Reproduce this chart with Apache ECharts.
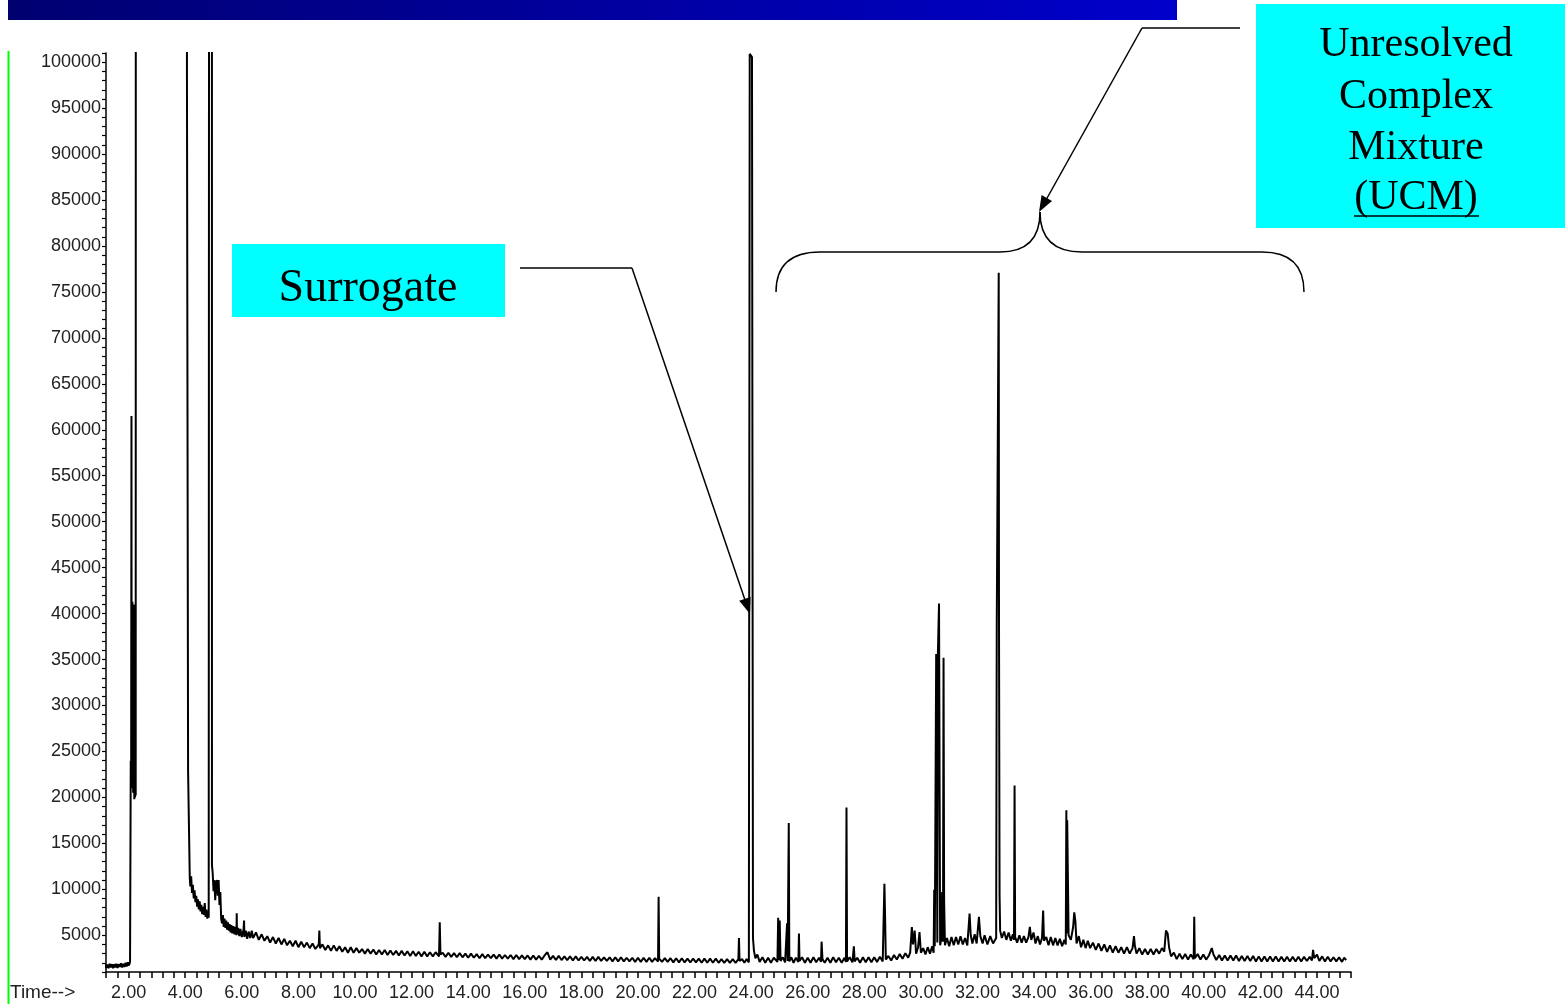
<!DOCTYPE html>
<html>
<head>
    <meta charset="utf-8">
    <title>Chromatogram</title>
    <script src="https://cdn.jsdelivr.net/npm/echarts@6/dist/echarts.min.js"></script>
    <style>
        html, body { margin: 0; padding: 0; background: #fff; }
    </style>
</head>
<body>
    <div id="main" style="width: 1565px;height:1004px;"></div>

    <script type="text/javascript">
        // retention time (min) / abundance pairs
        var preSolvent = [
            [1.13, 1400], [1.17, 1850], [1.21, 1450], [1.25, 1800], [1.29, 1400], [1.33, 1900],
            [1.37, 1500], [1.41, 1850], [1.45, 1400], [1.49, 1850], [1.53, 1500], [1.57, 1900],
            [1.61, 1450], [1.65, 1850], [1.69, 1550], [1.73, 1950], [1.77, 1500], [1.81, 1900],
            [1.85, 1550], [1.89, 2000], [1.93, 1600], [1.97, 2050], [2.01, 1700], [2.05, 2100],
            [2.07, 1900], [2.075, 24000], [2.09, 23500], [2.10, 61500], [2.106, 22500],
            [2.115, 40000], [2.124, 21000], [2.133, 41300], [2.142, 23000], [2.151, 38500],
            [2.16, 20500], [2.169, 39500], [2.178, 21500], [2.19, 41000], [2.20, 19800],
            [2.21, 33000], [2.225, 20000], [2.24, 27000], [2.25, 20200], [2.26, 300000]
        ];
        var solventTail = [
            [4.06, 300000], [4.061, 98500], [4.10, 98500], [4.101, 22900], [4.155, 22900],
            [4.16, 11300], [4.18, 10300], [4.21, 11400], [4.24, 9600], [4.27, 10500], [4.30, 9000],
            [4.33, 9900], [4.36, 8600], [4.39, 9300], [4.42, 8100], [4.45, 8900], [4.48, 7800],
            [4.51, 8700], [4.54, 7600], [4.57, 8300], [4.60, 7300], [4.63, 8100], [4.66, 7200],
            [4.69, 8500], [4.72, 7000], [4.75, 7800], [4.78, 6800], [4.81, 7600], [4.83, 6900],
            [4.85, 7000], [4.86, 300000], [4.94, 300000], [4.945, 12600], [4.97, 11800],
            [5.00, 9800], [5.03, 11000], [5.06, 8800], [5.09, 10700], [5.12, 11000], [5.15, 9300],
            [5.18, 11000], [5.21, 8300], [5.24, 9700], [5.27, 6800], [5.30, 6300], [5.33, 7200],
            [5.36, 5900], [5.39, 6800], [5.42, 5800], [5.45, 6600], [5.48, 5600], [5.51, 6400],
            [5.54, 5500], [5.57, 6200], [5.60, 5300], [5.63, 6100], [5.66, 5200], [5.70, 6000],
            [5.74, 5100], [5.78, 5900], [5.81, 5000], [5.82, 7400], [5.83, 5100], [5.87, 5800],
            [5.91, 4900], [5.95, 5700], [6.00, 4800], [6.06, 5600], [6.08, 6600], [6.09, 4800],
            [6.14, 5500], [6.19, 4600], [6.24, 5400], [6.30, 4700]
        ];
        var earlyBaseline = [
            [6.35, 5500], [6.40, 4700], [6.50, 5300], [6.60, 4500], [6.70, 5100], [6.80, 4400],
            [6.90, 4900], [7.00, 4200], [7.10, 4800], [7.20, 4100], [7.30, 4700], [7.40, 4000],
            [7.50, 4600], [7.60, 3900], [7.70, 4400], [7.80, 3800], [7.90, 4400], [8.00, 3700],
            [8.10, 4300], [8.20, 3700], [8.30, 4200], [8.40, 3600], [8.50, 4100], [8.60, 3500],
            [8.72, 4000], [8.74, 5500], [8.76, 3600], [8.85, 4000], [8.95, 3400], [9.05, 3900],
            [9.15, 3300], [9.25, 3900], [9.35, 3300], [9.45, 3800], [9.55, 3200], [9.65, 3700],
            [9.75, 3100], [9.85, 3700], [9.95, 3100], [10.05, 3600], [10.15, 3100], [10.25, 3500],
            [10.35, 3000], [10.45, 3500], [10.55, 3000], [10.65, 3450], [10.75, 2900], [10.85, 3400],
            [10.95, 2900], [11.05, 3400], [11.15, 2850], [11.25, 3350], [11.35, 2850], [11.45, 3300],
            [11.55, 2800], [11.65, 3300], [11.75, 2800], [11.85, 3250], [11.95, 2750], [12.05, 3250],
            [12.15, 2750], [12.25, 3200], [12.35, 2700], [12.45, 3200], [12.55, 2700], [12.65, 3150],
            [12.75, 2700], [12.85, 3150], [12.97, 2700], [12.995, 6400], [13.02, 2900], [13.10, 3100],
            [13.20, 2650], [13.30, 3100], [13.40, 2650], [13.50, 3050], [13.60, 2600], [13.70, 3050],
            [13.80, 2600], [13.90, 3000], [14.00, 2550], [14.10, 3000], [14.20, 2550], [14.30, 2950],
            [14.40, 2500], [14.50, 2950], [14.60, 2500], [14.70, 2900], [14.80, 2500], [14.90, 2900],
            [15.00, 2450], [15.10, 2900], [15.20, 2450], [15.30, 2850], [15.40, 2450], [15.50, 2850],
            [15.60, 2400], [15.70, 2850], [15.80, 2400], [15.90, 2800], [16.00, 2400], [16.10, 2800],
            [16.20, 2350], [16.30, 2800], [16.40, 2350], [16.50, 2750], [16.60, 2350], [16.70, 2800],
            [16.80, 3150], [16.90, 2350], [17.00, 2750], [17.10, 2300], [17.20, 2750], [17.30, 2300],
            [17.40, 2700], [17.50, 2300], [17.60, 2700], [17.70, 2250], [17.80, 2700], [17.90, 2250],
            [18.00, 2650], [18.10, 2250], [18.20, 2650], [18.30, 2200], [18.40, 2650], [18.50, 2200],
            [18.60, 2650], [18.70, 2200], [18.80, 2600], [18.90, 2200], [19.00, 2600], [19.10, 2150],
            [19.20, 2600], [19.30, 2150], [19.40, 2600], [19.50, 2150], [19.60, 2550], [19.70, 2150],
            [19.80, 2550], [19.90, 2100], [20.00, 2550], [20.10, 2100], [20.20, 2550], [20.30, 2100],
            [20.40, 2550], [20.50, 2100], [20.60, 2500], [20.71, 2150], [20.73, 9200], [20.75, 2450],
            [20.85, 2100], [20.95, 2500], [21.05, 2100], [21.15, 2500], [21.25, 2050], [21.35, 2500],
            [21.45, 2050], [21.55, 2500], [21.65, 2050], [21.75, 2450], [21.85, 2050], [21.95, 2450],
            [22.05, 2050], [22.15, 2450], [22.25, 2000], [22.35, 2450], [22.45, 2000], [22.55, 2450],
            [22.65, 2000], [22.75, 2450], [22.85, 2000], [22.95, 2400], [23.05, 2000], [23.15, 2400],
            [23.25, 2000], [23.35, 2400], [23.45, 2000], [23.55, 2400], [23.57, 4700], [23.59, 2200],
            [23.68, 2400], [23.76, 2000], [23.84, 2400], [23.92, 2050]
        ];
        var surrogatePeak = [
            [23.95, 100900], [24.02, 100900], [24.03, 100550], [24.06, 100550], [24.065, 4700],
            [24.10, 3300], [24.15, 2500], [24.22, 2900]
        ];
        var midBaseline = [
            [24.30, 2100], [24.40, 2600], [24.50, 2000], [24.60, 2550], [24.70, 2000], [24.80, 2550],
            [24.93, 2100], [24.955, 6900], [24.98, 2300], [25.01, 6600], [25.04, 2200], [25.12, 2600],
            [25.20, 2050], [25.27, 6300], [25.29, 2200], [25.33, 17200], [25.35, 2150], [25.42, 2600],
            [25.50, 2000], [25.58, 2550], [25.67, 2100], [25.69, 5200], [25.71, 2200], [25.80, 2600],
            [25.90, 2000], [26.00, 2550], [26.10, 2000], [26.20, 2600], [26.30, 2050], [26.40, 2550],
            [26.47, 2100], [26.49, 4300], [26.52, 2400], [26.60, 2000], [26.70, 2550], [26.80, 2000],
            [26.90, 2600], [27.00, 2050], [27.10, 2550], [27.20, 2000], [27.30, 2550], [27.35, 2100],
            [27.37, 18900], [27.39, 2150], [27.48, 2600], [27.58, 2050], [27.63, 3800], [27.66, 2150],
            [27.75, 2550], [27.85, 2000], [27.95, 2600], [28.05, 2050], [28.15, 2600], [28.25, 2050],
            [28.35, 2600], [28.45, 2100], [28.55, 2650], [28.65, 2150], [28.71, 10600], [28.73, 7700],
            [28.76, 2350], [28.85, 2750], [28.95, 2250], [29.05, 2850], [29.15, 2350], [29.25, 2950],
            [29.35, 2450], [29.45, 3050], [29.55, 2550]
        ];
        var ucmHump = [
            [29.62, 3100], [29.68, 5900], [29.72, 4000], [29.78, 5500], [29.83, 3000], [29.90, 3700],
            [29.95, 5350], [30.00, 3100], [30.08, 3600], [30.16, 2900], [30.24, 3700], [30.32, 3000],
            [30.40, 3800], [30.45, 3100], [30.47, 9950], [30.49, 3800], [30.54, 35600], [30.58, 4200],
            [30.60, 35600], [30.64, 41100], [30.68, 3900], [30.72, 4600], [30.75, 9700], [30.78, 4300],
            [30.80, 35200], [30.82, 8800], [30.85, 3900], [30.92, 4700], [31.00, 3800], [31.08, 4800],
            [31.16, 3900], [31.24, 4800], [31.32, 4000], [31.40, 4900], [31.48, 4000], [31.56, 4700],
            [31.64, 3900], [31.72, 7350], [31.76, 5000], [31.82, 4100], [31.90, 5100], [31.97, 4100],
            [32.05, 7000], [32.10, 4900], [32.18, 4100], [32.25, 5000], [32.35, 4000], [32.45, 4900],
            [32.55, 4100], [32.66, 4700], [32.68, 38500], [32.74, 38500], [32.75, 77100], [32.76, 38500],
            [32.78, 9300], [32.80, 5500], [32.86, 4700], [32.94, 5400], [33.02, 4500], [33.10, 5300],
            [33.18, 4400], [33.25, 5100], [33.29, 4500], [33.31, 21300], [33.33, 4800], [33.40, 4200],
            [33.48, 5000], [33.56, 4200], [33.64, 4900], [33.72, 4200], [33.80, 4800], [33.85, 5900],
            [33.90, 4500], [33.98, 5300], [34.05, 4100], [34.13, 4900], [34.21, 4000], [34.28, 4700],
            [34.32, 7700], [34.35, 4400], [34.43, 4800], [34.51, 3900], [34.59, 4800], [34.67, 3900],
            [34.75, 4700], [34.83, 3900], [34.91, 4600], [34.99, 3800], [35.07, 4500], [35.12, 4000],
            [35.14, 18600], [35.16, 5200], [35.17, 17500], [35.20, 17500], [35.22, 5000], [35.30, 4500],
            [35.38, 5900], [35.42, 7500], [35.46, 6500], [35.50, 4100], [35.58, 4900], [35.66, 3700],
            [35.74, 4500], [35.82, 3600], [35.90, 4400], [35.98, 3600]
        ];
        var lateTail = [
            [36.08, 4200], [36.18, 3400], [36.28, 4100], [36.38, 3300], [36.48, 4000], [36.58, 3200],
            [36.68, 3900], [36.78, 3100], [36.88, 3800], [36.98, 3100], [37.08, 3700], [37.18, 3000],
            [37.28, 3700], [37.38, 3000], [37.48, 3600], [37.53, 4900], [37.56, 3900], [37.62, 3000],
            [37.72, 3600], [37.82, 2900], [37.92, 3500], [38.02, 2900], [38.12, 3500], [38.22, 2900],
            [38.32, 3500], [38.42, 3000], [38.52, 3600], [38.60, 3200], [38.66, 5500], [38.72, 5200],
            [38.77, 3700], [38.84, 2700], [38.94, 3100], [39.04, 2400], [39.14, 3000], [39.24, 2400],
            [39.34, 2950], [39.44, 2350], [39.54, 2900], [39.64, 2400], [39.66, 7000], [39.68, 2500],
            [39.78, 2950], [39.88, 2350], [39.98, 2900], [40.08, 2350], [40.18, 2800], [40.28, 3600],
            [40.34, 2900], [40.44, 2300], [40.54, 2850], [40.64, 2250], [40.74, 2800], [40.84, 2250],
            [40.94, 2800], [41.04, 2250], [41.14, 2800], [41.24, 2200], [41.34, 2750], [41.44, 2200],
            [41.54, 2750], [41.64, 2200], [41.74, 2750], [41.84, 2150], [41.94, 2700], [42.04, 2150],
            [42.14, 2700], [42.24, 2150], [42.34, 2700], [42.44, 2150], [42.54, 2700], [42.64, 2150],
            [42.74, 2650], [42.84, 2150], [42.94, 2650], [43.04, 2150], [43.14, 2650], [43.24, 2150],
            [43.34, 2650], [43.44, 2150], [43.54, 2650], [43.64, 2200], [43.74, 2650], [43.82, 2250],
            [43.86, 3400], [43.90, 2500], [44.00, 2900], [44.08, 2200], [44.18, 2700], [44.28, 2150],
            [44.38, 2650], [44.48, 2150], [44.58, 2600], [44.68, 2150], [44.78, 2600], [44.88, 2100],
            [44.96, 2550], [45.03, 2300]
        ];

        var xLabelStep = 2;      // minutes between time labels
        var yLabelStep = 5000;   // abundance between labels

        var trace = [].concat(preSolvent, solventTail, earlyBaseline, surrogatePeak,
            midBaseline, ucmHump, lateTail);

        var myChart = echarts.init(document.getElementById('main'));

        var serif = '"Liberation Serif", "Times New Roman", serif';
        function txt(s, x, y, size) {
            return {
                type: 'text', z: 110, silent: true,
                style: {
                    text: s, x: x, y: y, fill: '#000',
                    font: size + 'px ' + serif,
                    align: 'center', verticalAlign: 'middle',
                    textAlign: 'center', textVerticalAlign: 'middle'
                }
            };
        }
        function seg(x1, y1, x2, y2) {
            return {
                type: 'line', z: 105, silent: true,
                shape: { x1: x1, y1: y1, x2: x2, y2: y2 },
                style: { stroke: '#000', lineWidth: 1.5 }
            };
        }
        function curve(x1, y1, cx, cy, x2, y2) {
            return {
                type: 'bezierCurve', z: 105, silent: true,
                shape: { x1: x1, y1: y1, cpx1: cx, cpy1: cy, x2: x2, y2: y2 },
                style: { stroke: '#000', lineWidth: 1.5, fill: null }
            };
        }

        option = {
            backgroundColor: '#ffffff',
            animation: false,
            grid: { left: 106, right: 214, top: 53, bottom: 32 },
            xAxis: {
                type: 'value',
                min: 1.2,
                max: 45.2,
                interval: 0.4,
                splitLine: { show: false },
                axisLine: { onZero: false, lineStyle: { color: '#000', width: 1.5 } },
                axisTick: { length: 6, lineStyle: { color: '#000', width: 1.5 } },
                axisLabel: {
                    margin: 12,
                    color: '#222',
                    fontSize: 18,
                    fontFamily: '"Liberation Sans", Arial, sans-serif',
                    formatter: function (v) {
                        var k = v / xLabelStep;
                        return Math.abs(k - Math.round(k)) < 1e-6 ? v.toFixed(2) : '';
                    }
                }
            },
            yAxis: {
                type: 'value',
                min: 1000,
                max: 101000,
                interval: 1000,
                splitLine: { show: false },
                axisLine: { lineStyle: { color: '#000', width: 1.5 } },
                axisTick: { length: 4, lineStyle: { color: '#000', width: 1.2 } },
                axisLabel: {
                    margin: 5,
                    color: '#222',
                    fontSize: 18,
                    fontFamily: '"Liberation Sans", Arial, sans-serif',
                    formatter: function (v) {
                        return Math.round(v) % yLabelStep === 0 ? String(Math.round(v)) : '';
                    }
                }
            },
            series: [{
                type: 'line',
                data: trace,
                showSymbol: false,
                symbol: 'none',
                clip: true,
                lineStyle: { color: '#000', width: 2 }
            }],
            graphic: [
                {
                    type: 'rect', z: 100, silent: true,
                    shape: { x: 8, y: 0, width: 1169, height: 20 },
                    style: {
                        fill: new echarts.graphic.LinearGradient(0, 0, 1, 0, [
                            { offset: 0, color: '#000070' },
                            { offset: 1, color: '#0000cc' }
                        ])
                    }
                },
                {
                    type: 'line', z: 100, silent: true,
                    shape: { x1: 8.5, y1: 51, x2: 8.5, y2: 1004 },
                    style: { stroke: '#00ff00', lineWidth: 2 }
                },
                {
                    type: 'text', z: 100, silent: true,
                    style: {
                        text: 'Time-->', x: 10, y: 993, fill: '#222',
                        font: '19px "Liberation Sans", Arial, sans-serif',
                        align: 'left', verticalAlign: 'middle',
                        textAlign: 'left', textVerticalAlign: 'middle'
                    }
                },
                // Surrogate callout
                {
                    type: 'rect', z: 100, silent: true,
                    shape: { x: 232, y: 244, width: 273, height: 73 },
                    style: { fill: '#00ffff' }
                },
                txt('Surrogate', 368, 289, 46),
                seg(520, 268, 632, 268),
                seg(632, 268, 745, 600),
                {
                    type: 'polygon', z: 105, silent: true,
                    shape: { points: [[750, 614], [739.2, 600.7], [750.6, 596.9]] },
                    style: { fill: '#000' }
                },
                // UCM callout
                {
                    type: 'rect', z: 100, silent: true,
                    shape: { x: 1256, y: 4, width: 309, height: 224 },
                    style: { fill: '#00ffff' }
                },
                txt('Unresolved', 1416, 45, 42),
                txt('Complex', 1416, 97, 42),
                txt('Mixture', 1416, 148, 42),
                txt('(UCM)', 1416, 198, 42),
                {
                    type: 'line', z: 110, silent: true,
                    shape: { x1: 1354, y1: 216, x2: 1479, y2: 216 },
                    style: { stroke: '#000', lineWidth: 1.5 }
                },
                seg(1240, 28, 1142, 28),
                seg(1142, 28, 1046, 200),
                {
                    type: 'polygon', z: 105, silent: true,
                    shape: { points: [[1039, 212], [1052, 200.9], [1041.6, 195.1]] },
                    style: { fill: '#000' }
                },
                // brace over the UCM hump
                curve(776, 292, 776, 252, 820, 252),
                seg(820, 252, 1000, 252),
                curve(1000, 252, 1040, 252, 1040, 212),
                curve(1040, 212, 1040, 252, 1082, 252),
                seg(1082, 252, 1262, 252),
                curve(1262, 252, 1304, 252, 1304, 292)
            ]
        };

        myChart.setOption(option);
    </script>
</body>
</html>
